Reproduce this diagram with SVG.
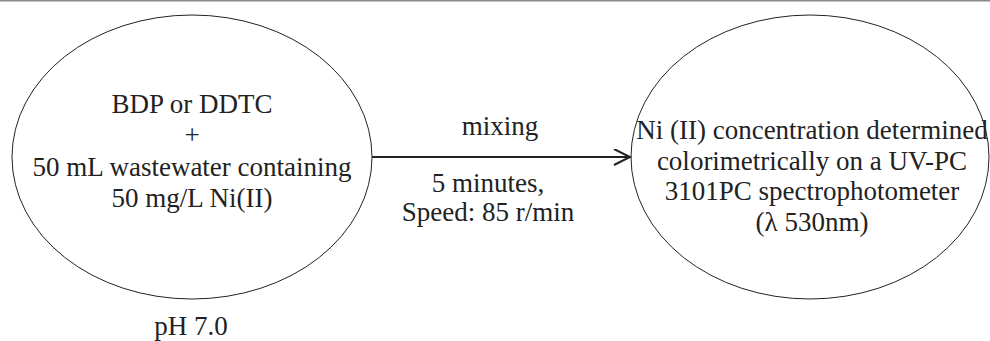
<svg xmlns="http://www.w3.org/2000/svg" width="990" height="341" viewBox="0 0 990 341">
<defs>
<style>
text{font-family:"Liberation Serif","Times New Roman",serif;font-size:27px;fill:#222;text-anchor:middle}
.node{fill:#fff;stroke:#222;stroke-width:1}
.conn{stroke:#222;stroke-width:2;fill:none}
</style>
<marker id="arr" markerWidth="20" markerHeight="20" refX="17" refY="8" orient="auto" markerUnits="userSpaceOnUse">
<path d="M1,0 L17,8 L1,16" fill="none" stroke="#222" stroke-width="2"/>
</marker>
</defs>
<rect x="0" y="0" width="990" height="341" fill="#fff"/>
<line x1="0" y1="0.75" x2="990" y2="0.75" stroke="#888" stroke-width="1.5"/>
<g id="node-reagents">
<ellipse class="node" cx="192" cy="157" rx="180" ry="142"/>
<text x="192" y="113">BDP or DDTC</text>
<text x="192" y="144">+</text>
<text x="192" y="176">50 mL wastewater containing</text>
<text x="192" y="207">50 mg/L Ni(II)</text>
</g>
<g id="node-measurement">
<ellipse class="node" cx="810" cy="157" rx="179" ry="142"/>
<text x="812" y="139">Ni (II) concentration determined</text>
<text x="812" y="170">colorimetrically on a UV-PC</text>
<text x="812" y="200">3101PC spectrophotometer</text>
<text x="812" y="231">(λ 530nm)</text>
</g>
<g id="connectors">
<line class="conn" x1="372" y1="157" x2="630" y2="157" marker-end="url(#arr)"/>
<text x="500" y="135">mixing</text>
<text x="488" y="192">5 minutes,</text>
<text x="488" y="221">Speed: 85 r/min</text>
</g>
<g id="label-ph">
<text x="191" y="335">pH 7.0</text>
</g>
</svg>
